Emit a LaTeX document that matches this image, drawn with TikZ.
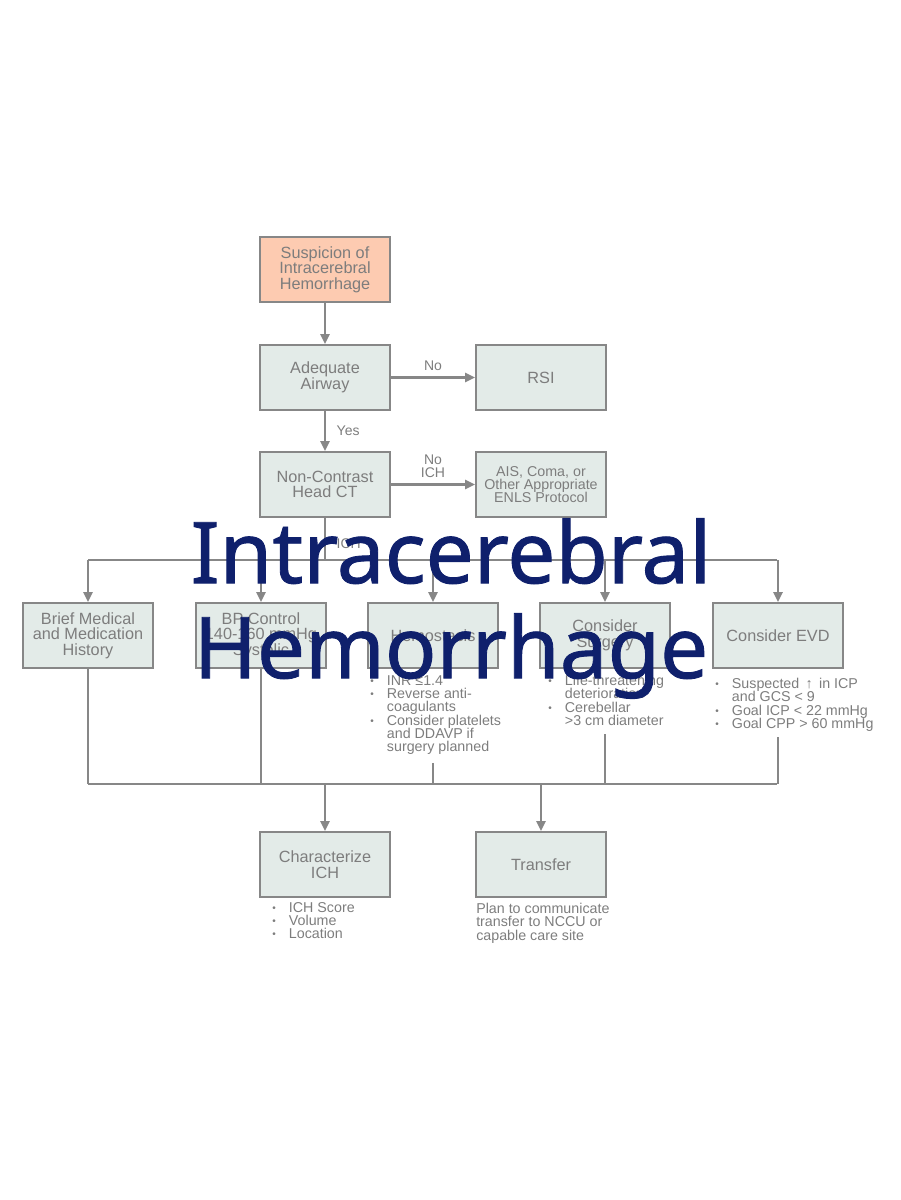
\documentclass[tikz,border=0pt]{standalone}
\usepackage{fontspec}
\setmainfont{Liberation Sans}
\newfontfamily\titlefont[FakeBold=1]{Noto Sans}
\usetikzlibrary{arrows.meta,positioning,calc}
\definecolor{Ink}{HTML}{7D7D7D}
\definecolor{Edge}{HTML}{878787}
\definecolor{BoxFill}{HTML}{E3EBE8}
\definecolor{Peach}{HTML}{FDCBB1}
\definecolor{Navy}{HTML}{0F206C}
\newcommand{\bl}{\makebox[12.5pt][l]{\raisebox{0.8pt}{\fontsize{7.5}{7.5}\selectfont\textbullet}}}
\newcommand{\ind}{\hspace*{12.5pt}}
\tikzset{
  stepbox/.style={draw=Edge,line width=1.5pt,fill=BoxFill,minimum width=97.5pt,minimum height=48.75pt,align=center,text=Ink,inner sep=2pt,font=\fontsize{12.2}{11.7}\selectfont},
  startbox/.style={stepbox,fill=Peach},
  smallbox/.style={stepbox,font=\fontsize{10.7}{10}\selectfont},
  note/.style={text=Ink,align=left,inner sep=0pt,font=\fontsize{10.7}{10}\selectfont},
  tag/.style={text=Ink,align=center,inner sep=1pt,font=\fontsize{10.5}{10}\selectfont},
  link/.style={draw=Edge,line width=1.6pt},
  arrow/.style={link,-{Triangle[length=7.5pt,width=7pt]}},
  heading/.style={text=Navy,align=center,font=\titlefont\fontsize{64}{71.25}\selectfont}
}

\begin{document}
\begin{tikzpicture}[x=0.75pt,y=-0.75pt]
  \useasboundingbox (0,0) rectangle (900,1200);
  % decision chain
  \node[startbox] (susp) at (325,269.5) {Suspicion of\\Intracerebral\\Hemorrhage};
  \node[stepbox] (airway) at (325,377.5) {Adequate\\Airway};
  \node[stepbox] (rsi) at (541,377.5) {RSI};
  \node[stepbox] (ct) at (325,484.5) {Non-Contrast\\Head CT};
  \node[smallbox] (ais) at (541,484.5) {AIS, Coma, or\\Other Appropriate\\ENLS Protocol};
  \draw[arrow] (susp) -- (airway);
  \draw[arrow] (airway) -- node[tag,above=3pt] {No} (rsi);
  \draw[arrow] (airway) -- node[tag,right=7pt] {Yes} (ct);
  \draw[arrow] (ct) -- node[tag,above=3pt] {No\\ICH} (ais);
  % management row
  \coordinate (splitL) at (88,560);
  \coordinate (splitR) at (777,560);
  \node[stepbox] (hist) at (88,635.5) {Brief Medical\\and Medication\\History};
  \node[stepbox] (bp) at (261,635.5) {BP Control\\140-160 mmHg\\Systolic};
  \node[stepbox] (hemo) at (433,635.5) {Hemostasis};
  \node[stepbox] (surg) at (605,635.5) {Consider\\Surgery};
  \node[stepbox] (evd) at (778,635.5) {Consider EVD};
  \draw[link] (ct) -- node[tag,right=7pt,pos=.6] {ICH} (ct |- splitL);
  \draw[link] (splitL) -- (splitR);
  \foreach \b in {hist,bp,hemo,surg,evd}
    \draw[arrow] (splitL -| \b) -- (\b);
  \node[note,anchor=north west] (hemoNote) at (370,675) {\bl INR ≤1.4\\ \bl Reverse anti-\\ \ind coagulants\\ \bl Consider platelets\\ \ind and DDAVP if\\ \ind surgery planned};
  \node[note,anchor=north west] (surgNote) at (548,675) {\bl Life-threatening\\ \ind deterioration\\ \bl Cerebellar\\ \ind >3 cm diameter};
  \node[note,anchor=north west] (evdNote) at (715,678) {\bl Suspected \,↑\, in ICP\\ \ind and GCS < 9\\ \bl Goal ICP < 22 mmHg\\ \bl Goal CPP > 60 mmHg};
  % join to disposition
  \coordinate (joinL) at (88,784);
  \coordinate (joinR) at (777,784);
  \node[stepbox] (char) at (325,864.5) {Characterize\\ICH};
  \node[stepbox] (xfer) at (541,864.5) {Transfer};
  \draw[link] (hist) -- (hist |- joinL);
  \draw[link] (bp) -- (bp |- joinL);
  \draw[link] ([yshift=-6pt]hemoNote.south -| hemo) -- (hemo |- joinL);
  \draw[link] ([yshift=-6pt]surgNote.south -| surg) -- (surg |- joinL);
  \draw[link] ([yshift=-4pt]evdNote.south -| evd) -- (evd |- joinL);
  \draw[link] (joinL) -- (joinR);
  \draw[arrow] (joinL -| char) -- (char);
  \draw[arrow] (joinL -| xfer) -- (xfer);
  \node[note,anchor=north west] (charNote) at (272,902) {\bl ICH Score\\ \bl Volume\\ \bl Location};
  \node[note,anchor=north west] (xferNote) at (476,903) {Plan to communicate\\transfer to NCCU or\\capable care site};
  % overlay title
  \node[heading] (title) at (451,608.5) {Intracerebral\\Hemorrhage};
\end{tikzpicture}
\end{document}
